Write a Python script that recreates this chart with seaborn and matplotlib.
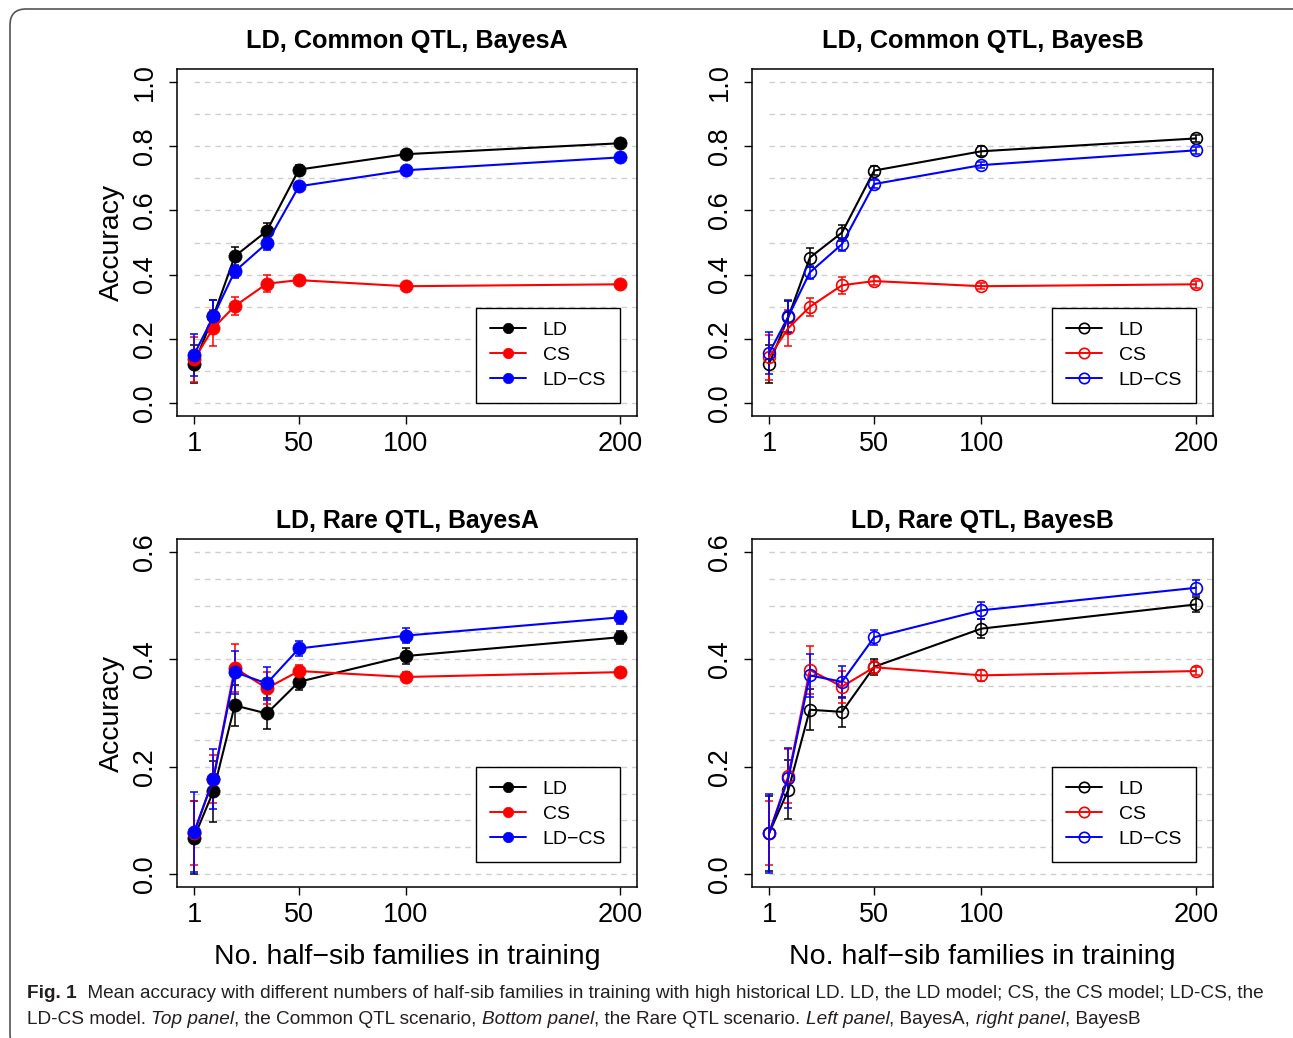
# HALF-SIB FAMILIES vs ACCURACY - FOUR PANEL FIGURE

import numpy as np
import pandas as pd
import matplotlib
matplotlib.use('Agg')
import matplotlib.pyplot as plt
import seaborn as sns
from matplotlib.lines import Line2D
from matplotlib.patches import FancyBboxPatch
from matplotlib.transforms import IdentityTransform


# DATA

families = [1, 10, 20, 35, 50, 100, 200]
models = ['LD', 'CS', 'LD\u2212CS']

common_a_ld = [0.122, 0.270, 0.457, 0.536, 0.727, 0.775, 0.809]
common_a_cs = [0.136, 0.234, 0.302, 0.372, 0.383, 0.364, 0.370]
common_a_ldcs = [0.151, 0.270, 0.410, 0.498, 0.675, 0.725, 0.765]
common_a_ld_err = [0.060, 0.050, 0.030, 0.025, 0.015, 0.012, 0.012]
common_a_cs_err = [0.070, 0.055, 0.028, 0.027, 0.012, 0.010, 0.010]
common_a_ldcs_err = [0.065, 0.050, 0.020, 0.020, 0.012, 0.010, 0.010]

common_b_ld = [0.122, 0.268, 0.453, 0.531, 0.724, 0.784, 0.824]
common_b_cs = [0.143, 0.234, 0.300, 0.367, 0.380, 0.364, 0.370]
common_b_ldcs = [0.156, 0.270, 0.407, 0.495, 0.682, 0.741, 0.787]
common_b_ld_err = [0.060, 0.050, 0.030, 0.025, 0.015, 0.015, 0.012]
common_b_cs_err = [0.070, 0.055, 0.028, 0.027, 0.012, 0.010, 0.010]
common_b_ldcs_err = [0.065, 0.050, 0.020, 0.020, 0.012, 0.010, 0.010]

rare_a_ld = [0.068, 0.154, 0.314, 0.299, 0.358, 0.406, 0.441]
rare_a_cs = [0.076, 0.177, 0.384, 0.346, 0.378, 0.367, 0.376]
rare_a_ldcs = [0.078, 0.177, 0.376, 0.355, 0.420, 0.444, 0.478]
rare_a_ld_err = [0.068, 0.057, 0.038, 0.029, 0.015, 0.015, 0.012]
rare_a_cs_err = [0.060, 0.045, 0.045, 0.030, 0.012, 0.010, 0.008]
rare_a_ldcs_err = [0.074, 0.056, 0.040, 0.030, 0.014, 0.014, 0.012]

rare_b_ld = [0.076, 0.157, 0.306, 0.302, 0.386, 0.457, 0.502]
rare_b_cs = [0.076, 0.183, 0.380, 0.349, 0.385, 0.370, 0.378]
rare_b_ldcs = [0.076, 0.179, 0.370, 0.358, 0.441, 0.491, 0.533]
rare_b_ld_err = [0.070, 0.055, 0.038, 0.028, 0.015, 0.017, 0.014]
rare_b_cs_err = [0.060, 0.050, 0.045, 0.030, 0.012, 0.010, 0.008]
rare_b_ldcs_err = [0.074, 0.056, 0.040, 0.030, 0.014, 0.016, 0.014]

titles = ['LD, Common QTL, BayesA', 'LD, Common QTL, BayesB',
          'LD, Rare QTL, BayesA', 'LD, Rare QTL, BayesB']
x_ticks = [1, 50, 100, 200]
y_ticks_common = [0.0, 0.2, 0.4, 0.6, 0.8, 1.0]
y_ticks_rare = [0.0, 0.2, 0.4, 0.6]


# BUILDING A LONG TABLE PER PANEL

def make_panel(ld, cs, ldcs, ld_err, cs_err, ldcs_err):
    frames = []
    for name, vals, errs in zip(models, [ld, cs, ldcs], [ld_err, cs_err, ldcs_err]):
        frames.append(pd.DataFrame({'families': families, 'accuracy': vals,
                                    'err': errs, 'model': name}))
    return pd.concat(frames, ignore_index=True)

panels = [
    make_panel(common_a_ld, common_a_cs, common_a_ldcs, common_a_ld_err, common_a_cs_err, common_a_ldcs_err),
    make_panel(common_b_ld, common_b_cs, common_b_ldcs, common_b_ld_err, common_b_cs_err, common_b_ldcs_err),
    make_panel(rare_a_ld, rare_a_cs, rare_a_ldcs, rare_a_ld_err, rare_a_cs_err, rare_a_ldcs_err),
    make_panel(rare_b_ld, rare_b_cs, rare_b_ldcs, rare_b_ld_err, rare_b_cs_err, rare_b_ldcs_err),
]


# STYLE

sns.set_style('ticks')
plt.rcParams['font.family'] = ['Liberation Sans', 'DejaVu Sans']
plt.rcParams['text.color'] = 'black'
plt.rcParams['axes.labelcolor'] = 'black'
colors = {'LD': '#000000', 'CS': '#ff0000', 'LD\u2212CS': '#0000ff'}

W, H = 1293, 1038
fig = plt.figure(figsize=(W / 100, H / 100), dpi=100)

boxes = [[0.1369, 0.5992, 0.3558, 0.3343], [0.5816, 0.5992, 0.3565, 0.3343],
         [0.1369, 0.1455, 0.3558, 0.3353], [0.5816, 0.1455, 0.3565, 0.3353]]


# PLOTTING THE FOUR PANELS

for i, df in enumerate(panels):
    ax = fig.add_axes(boxes[i])
    top = i < 2
    hollow = i % 2 == 1
    ymax = 1.0 if top else 0.6
    step = 0.1 if top else 0.05

    # dashed horizontal grid from x=1 to the right edge
    ax.hlines(np.arange(0, ymax + step / 2, step), 1, 208, colors='#cfcfcf',
              linestyles=(0, (4, 3.5)), linewidth=1.0, zorder=0)

    for m in models:
        sub = df[df['model'] == m]
        c = colors[m]
        ax.errorbar(sub['families'], sub['accuracy'], yerr=sub['err'], fmt='none',
                    ecolor=c, elinewidth=1.1, capsize=3, capthick=1.1, zorder=2)
        sns.lineplot(data=sub, x='families', y='accuracy', ax=ax, color=c,
                     marker='o', markersize=8.5 if hollow else 9.5, mec=c,
                     mfc='none' if hollow else c, mew=1.2 if hollow else 0.5,
                     linewidth=1.5, zorder=3)

    ax.set_xlim(1 - 0.04 * 199, 200 + 0.04 * 199)
    ax.set_ylim(-0.04 * ymax, ymax * 1.04)
    ax.set_xticks(x_ticks)
    ax.set_xticklabels([str(t) for t in x_ticks])
    yt = y_ticks_common if top else y_ticks_rare
    ax.set_yticks(yt)
    ax.set_yticklabels(['%.1f' % t for t in yt])
    ax.tick_params(axis='both', direction='out', length=6, width=1.0,
                   color='black', labelsize=19.5, labelcolor='black')
    ax.tick_params(axis='x', pad=5)
    ax.tick_params(axis='y', labelrotation=90, pad=8)
    plt.setp(ax.get_yticklabels(), va='center')
    for s in ax.spines.values():
        s.set_visible(True)
        s.set_color('black')
        s.set_linewidth(1.1)

    ax.set_title(titles[i], fontsize=18.2 if top else 17.8, fontweight='bold',
                 pad=15 if top else 8, color='black')
    ax.set_xlabel('No. half\u2212sib families in training' if not top else '',
                  fontsize=20.5, labelpad=11)
    ax.set_ylabel('Accuracy' if i % 2 == 0 else '', fontsize=20.5, labelpad=5)

    handles = [Line2D([0], [0], color=colors[m], lw=1.4, marker='o', markersize=7.5,
                      mec=colors[m], mfc='none' if hollow else colors[m],
                      mew=1.2 if hollow else 0.5) for m in models]
    anchor = (200, 0) if top else (200, 0.2)
    leg = ax.legend(handles, models, loc='lower right' if top else 'upper right',
                    bbox_to_anchor=anchor, bbox_transform=ax.transData,
                    fontsize=14, handlelength=1.85, handletextpad=0.85,
                    labelspacing=0.38, borderpad=0.72, borderaxespad=0,
                    fancybox=False, framealpha=1, edgecolor='black')
    leg.get_frame().set_linewidth(1.0)


# CAPTION WITH MIXED STYLES

cap_color = '#231f20'
cap_family = ['Liberation Sans Narrow', 'Liberation Sans', 'DejaVu Sans']
line1 = [('Fig. 1', 'bold', 'normal'),
         ('  Mean accuracy with different numbers of half-sib families in training with high '
          'historical LD. LD, the LD model; CS, the CS model; LD-CS, the', 'normal', 'normal')]
line2 = [('LD-CS model. ', 'normal', 'normal'), ('Top panel', 'normal', 'italic'),
         (', the Common QTL scenario, ', 'normal', 'normal'), ('Bottom panel', 'normal', 'italic'),
         (', the Rare QTL scenario. ', 'normal', 'normal'), ('Left panel', 'normal', 'italic'),
         (', BayesA, ', 'normal', 'normal'), ('right panel', 'normal', 'italic'),
         (', BayesB', 'normal', 'normal')]

renderer = fig.canvas.get_renderer()

def put_line(pieces, y_px, size):
    x = 27
    arts = []
    for txt, wt, st in pieces:
        t = fig.text(x / W, 1 - y_px / H, txt, fontsize=size, fontweight=wt, fontstyle=st,
                     family=cap_family, color=cap_color, va='baseline', ha='left')
        x += t.get_window_extent(renderer).width
        arts.append(t)
    return x, arts

# fit first caption line to the measured width
end, arts = put_line(line1, 998, 13.5)
for a in arts:
    a.remove()
size = 13.5 * (1266 - 27) / (end - 27)
put_line(line1, 998, size)
put_line(line2, 1024, size)


# ROUNDED PANEL BORDER (top and left edges visible)

border = FancyBboxPatch((10, -12), 1300, 1041, boxstyle='round,pad=0,rounding_size=16',
                        fill=False, edgecolor='#555555', linewidth=1.2,
                        transform=IdentityTransform())
fig.add_artist(border)

fig.savefig('out.png', dpi=100)
